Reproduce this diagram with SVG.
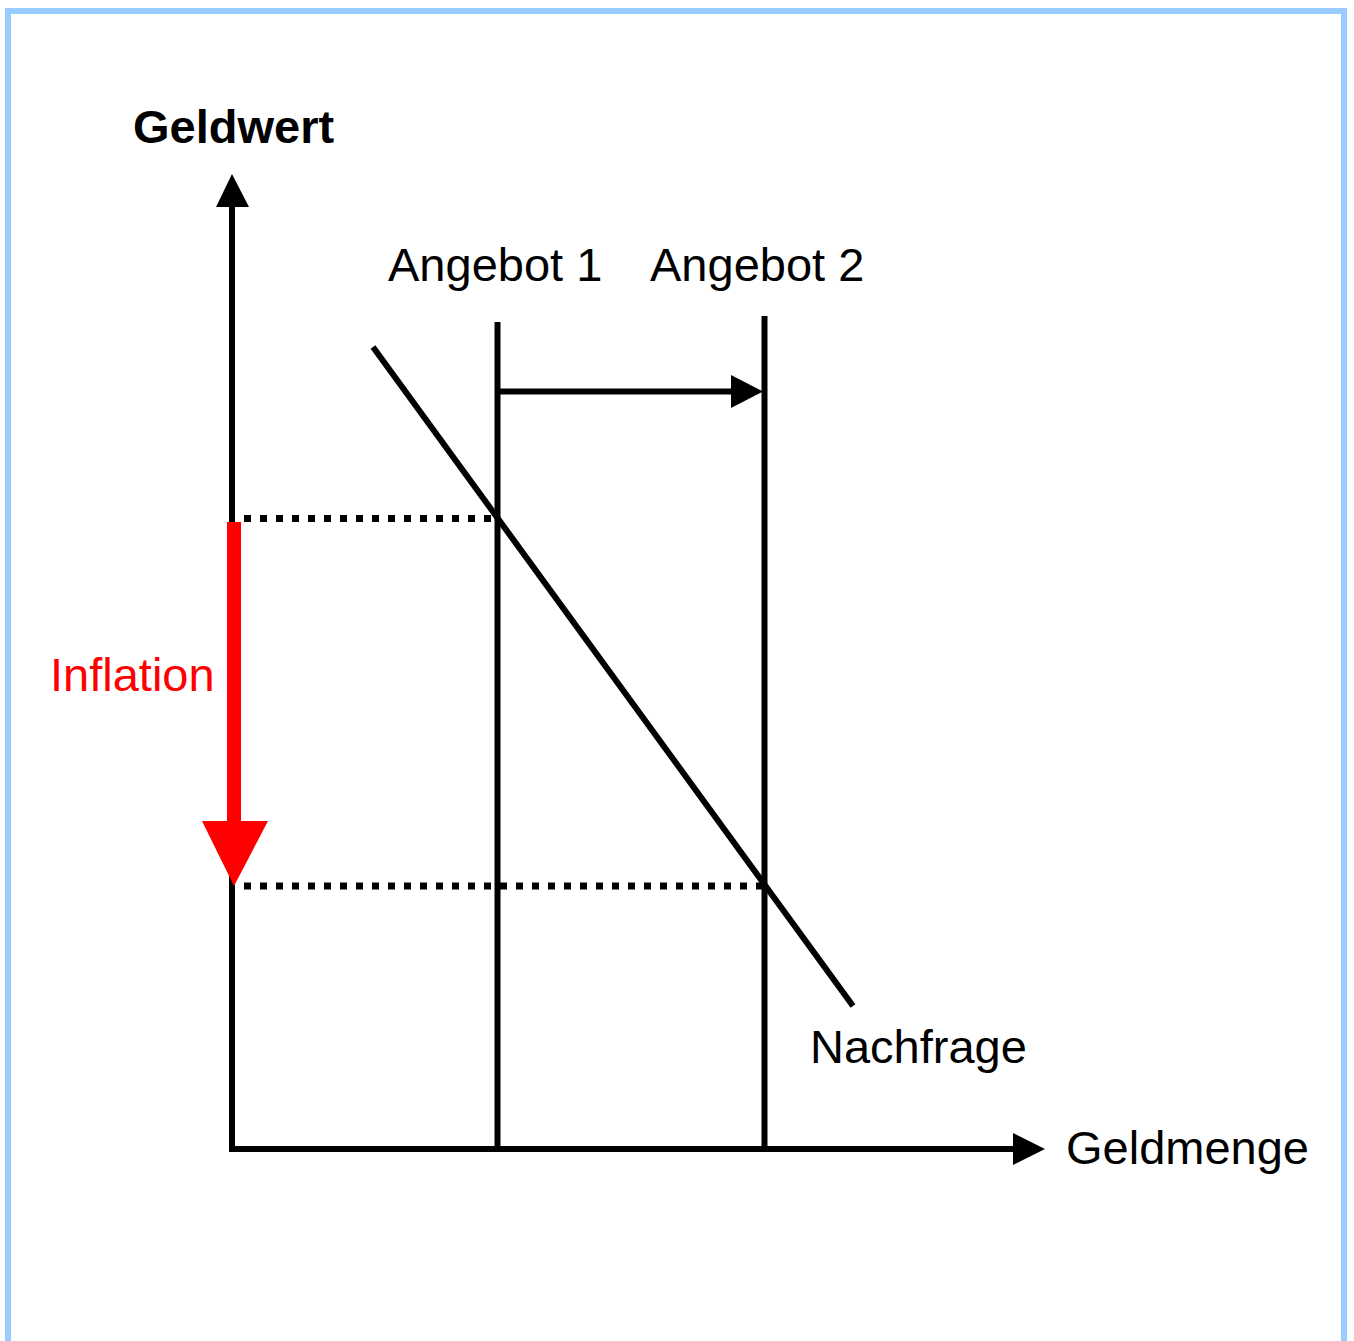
<svg xmlns="http://www.w3.org/2000/svg" width="1354" height="1341" viewBox="0 0 1354 1341">
<style>
.t{font-family:"Liberation Sans",Arial,sans-serif;font-size:47px;fill:#000}
.b{font-weight:bold}
.ln{stroke:#000;stroke-width:6;fill:none}
.dot{stroke:#000;stroke-width:7;stroke-dasharray:7 9;fill:none}
</style>
<rect width="1354" height="1341" fill="#fff"/>
<rect x="8" y="11" width="1336" height="1400" fill="none" stroke="#99ccff" stroke-width="6"/>
<g id="connectors">
<line class="ln" x1="232" y1="1152" x2="232" y2="204"/>
<polygon points="232,174 216,207 249,207" fill="#000"/>
<line class="ln" x1="229" y1="1149" x2="1015" y2="1149"/>
<polygon points="1045,1149 1013,1133 1013,1165" fill="#000"/>
<line class="ln" x1="497.5" y1="322" x2="497.5" y2="1152"/>
<line class="ln" x1="764.5" y1="316" x2="764.5" y2="1150"/>
<line class="ln" x1="497" y1="391.5" x2="735" y2="391.5"/>
<polygon points="763,391.5 731,375 731,408" fill="#000"/>
<line class="ln" x1="373" y1="347" x2="853" y2="1006"/>
<line class="dot" x1="244" y1="518.5" x2="497" y2="518.5"/>
<line class="dot" x1="244" y1="886" x2="764" y2="886"/>
<rect x="227" y="522" width="14" height="302" fill="#ff0000"/>
<polygon points="202,821 268,821 234,886" fill="#ff0000"/>
</g>
<g id="geldwert"><text class="t b" x="133" y="143">Geldwert</text></g>
<g id="angebot1"><text class="t" x="388" y="281">Angebot 1</text></g>
<g id="angebot2"><text class="t" x="650" y="281">Angebot 2</text></g>
<g id="inflation"><text class="t" x="50" y="691" style="fill:#ff0000">Inflation</text></g>
<g id="nachfrage"><text class="t" x="810" y="1063">Nachfrage</text></g>
<g id="geldmenge"><text class="t" x="1066" y="1164">Geldmenge</text></g>
</svg>
